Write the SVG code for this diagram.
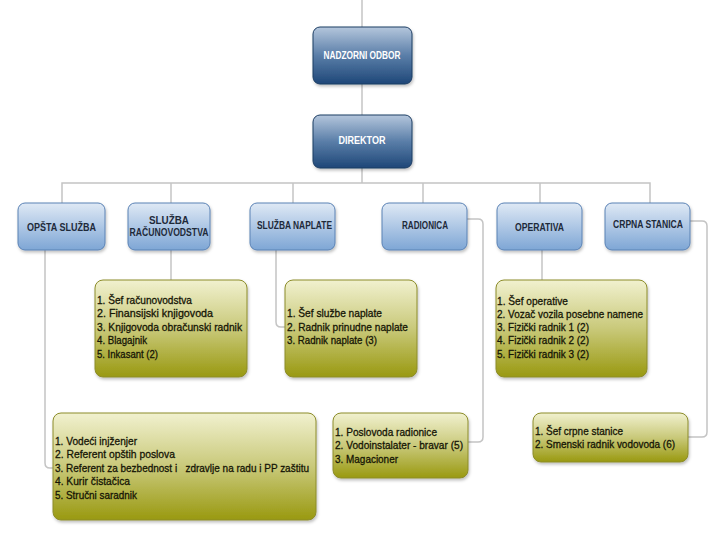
<svg xmlns="http://www.w3.org/2000/svg" width="720" height="540" viewBox="0 0 720 540">
<defs>
<linearGradient id="gTop" x1="0" y1="0" x2="0" y2="1">
<stop offset="0" stop-color="#b4c6dc"/>
<stop offset="0.5" stop-color="#5a7ea8"/>
<stop offset="1" stop-color="#1e4778"/>
</linearGradient>
<linearGradient id="gMid" x1="0" y1="0" x2="0" y2="1">
<stop offset="0" stop-color="#dfe9f5"/>
<stop offset="1" stop-color="#7ea6d5"/>
</linearGradient>
<linearGradient id="gList" x1="0" y1="0" x2="0" y2="1">
<stop offset="0" stop-color="#f1f1cf"/>
<stop offset="0.5" stop-color="#c9c97a"/>
<stop offset="1" stop-color="#999910"/>
</linearGradient>
<filter id="sh" x="-10%" y="-10%" width="130%" height="130%">
<feDropShadow dx="1" dy="2" stdDeviation="1.5" flood-color="#000" flood-opacity="0.25"/>
</filter>
</defs>
<style>
.top{fill:url(#gTop);stroke:#1d3d63;stroke-width:1;filter:url(#sh)}
.mid{fill:url(#gMid);stroke:#5a82b5;stroke-width:1;filter:url(#sh)}
.lst{fill:url(#gList);stroke:#8c8c2a;stroke-width:1;filter:url(#sh)}
.tt{font-family:"Liberation Sans",Arial,sans-serif;font-size:10px;font-weight:bold;fill:#ffffff;text-anchor:middle}
.mt{font-family:"Liberation Sans",Arial,sans-serif;font-size:10px;font-weight:bold;fill:#1e2a3a;text-anchor:middle}
.lt{font-family:"Liberation Sans",Arial,sans-serif;font-size:11px;fill:#151505;stroke:#151505;stroke-width:0.3;white-space:pre}
.con{fill:none;stroke:#c4c4c4;stroke-width:1.5}
</style>
<rect width="720" height="540" fill="#ffffff"/>
<g id="connectors">
<path class="con" d="M362,0 V27"/>
<path class="con" d="M362,84 V115"/>
<path class="con" d="M362,168 V183"/>
<path class="con" d="M62,203 V183 H650 V203"/>
<path class="con" d="M171,183 V203"/>
<path class="con" d="M293,183 V203"/>
<path class="con" d="M423,183 V203"/>
<path class="con" d="M540,183 V203"/>
<path class="con" d="M171,250 V280"/>
<path class="con" d="M276,250 V322 Q276,327 281,327 H285"/>
<path class="con" d="M542,250 V280"/>
<path class="con" d="M45,250 V463 Q45,468 50,468 H53"/>
<path class="con" d="M467,219 H478 Q483,219 483,224 V437 Q483,442 478,442 H468"/>
<path class="con" d="M690,221 H702 Q707,221 707,226 V432 Q707,437 702,437 H688"/>
</g>
<g id="nadzorni-odbor">
<rect class="top" x="313" y="27" width="99" height="57" rx="7"/>
<text class="tt" x="362" y="59" textLength="77" lengthAdjust="spacingAndGlyphs">NADZORNI ODBOR</text>
</g>
<g id="direktor">
<rect class="top" x="313" y="115" width="99" height="53" rx="7"/>
<text class="tt" x="362" y="144" textLength="47" lengthAdjust="spacingAndGlyphs">DIREKTOR</text>
</g>
<g id="opsta-sluzba">
<rect class="mid" x="18" y="203" width="87" height="47" rx="7"/>
<text class="mt" x="61.5" y="231" textLength="69" lengthAdjust="spacingAndGlyphs">OPŠTA SLUŽBA</text>
</g>
<g id="sluzba-racunovodstva">
<rect class="mid" x="128" y="203" width="82" height="47" rx="7"/>
<text class="mt" x="169" y="224" textLength="40" lengthAdjust="spacingAndGlyphs">SLUŽBA</text>
<text class="mt" x="169" y="236" textLength="79" lengthAdjust="spacingAndGlyphs">RAČUNOVODSTVA</text>
</g>
<g id="sluzba-naplate">
<rect class="mid" x="250" y="203" width="85" height="47" rx="7"/>
<text class="mt" x="294.5" y="229" textLength="75" lengthAdjust="spacingAndGlyphs">SLUŽBA NAPLATE</text>
</g>
<g id="radionica">
<rect class="mid" x="382" y="203" width="85" height="47" rx="7"/>
<text class="mt" x="425" y="229" textLength="46" lengthAdjust="spacingAndGlyphs">RADIONICA</text>
</g>
<g id="operativa">
<rect class="mid" x="497" y="203" width="85" height="47" rx="7"/>
<text class="mt" x="539.5" y="231" textLength="49" lengthAdjust="spacingAndGlyphs">OPERATIVA</text>
</g>
<g id="crpna-stanica">
<rect class="mid" x="605" y="203" width="85" height="47" rx="7"/>
<text class="mt" x="648" y="228" textLength="70" lengthAdjust="spacingAndGlyphs">CRPNA STANICA</text>
</g>
<g id="lista-racunovodstvo">
<rect class="lst" x="95" y="280" width="152" height="97" rx="8"/>
<text class="lt" x="97" y="304" textLength="95" lengthAdjust="spacingAndGlyphs">1. Šef računovodstva</text>
<text class="lt" x="97" y="317" textLength="116" lengthAdjust="spacingAndGlyphs">2. Finansijski knjigovoda</text>
<text class="lt" x="97" y="331" textLength="145" lengthAdjust="spacingAndGlyphs">3. Knjigovoda obračunski radnik</text>
<text class="lt" x="97" y="344" textLength="50" lengthAdjust="spacingAndGlyphs">4. Blagajnik</text>
<text class="lt" x="97" y="358" textLength="61" lengthAdjust="spacingAndGlyphs">5. Inkasant (2)</text>
</g>
<g id="lista-naplata">
<rect class="lst" x="285" y="280" width="132" height="97" rx="8"/>
<text class="lt" x="287" y="317" textLength="95" lengthAdjust="spacingAndGlyphs">1. Šef službe naplate</text>
<text class="lt" x="287" y="331" textLength="121" lengthAdjust="spacingAndGlyphs">2. Radnik prinudne naplate</text>
<text class="lt" x="287" y="344" textLength="90" lengthAdjust="spacingAndGlyphs">3. Radnik naplate (3)</text>
</g>
<g id="lista-operativa">
<rect class="lst" x="496" y="280" width="151" height="97" rx="8"/>
<text class="lt" x="497" y="305" textLength="71" lengthAdjust="spacingAndGlyphs">1. Šef operative</text>
<text class="lt" x="497" y="318" textLength="146" lengthAdjust="spacingAndGlyphs">2. Vozač vozila posebne namene</text>
<text class="lt" x="497" y="331" textLength="92" lengthAdjust="spacingAndGlyphs">3. Fizički radnik 1 (2)</text>
<text class="lt" x="497" y="344" textLength="92" lengthAdjust="spacingAndGlyphs">4. Fizički radnik 2 (2)</text>
<text class="lt" x="497" y="358" textLength="92" lengthAdjust="spacingAndGlyphs">5. Fizički radnik 3 (2)</text>
</g>
<g id="lista-opsta">
<rect class="lst" x="53" y="413" width="263" height="107" rx="8"/>
<text class="lt" x="55" y="445" textLength="82" lengthAdjust="spacingAndGlyphs">1. Vodeći injženjer</text>
<text class="lt" x="55" y="458" textLength="120" lengthAdjust="spacingAndGlyphs">2. Referent opštih poslova</text>
<text class="lt" x="55" y="472" textLength="254" lengthAdjust="spacingAndGlyphs">3. Referent za bezbednost i   zdravlje na radu i PP zaštitu</text>
<text class="lt" x="55" y="485" textLength="75" lengthAdjust="spacingAndGlyphs">4. Kurir čistačica</text>
<text class="lt" x="55" y="499" textLength="82" lengthAdjust="spacingAndGlyphs">5. Stručni saradnik</text>
</g>
<g id="lista-radionica">
<rect class="lst" x="333" y="413" width="135" height="65" rx="8"/>
<text class="lt" x="335" y="436" textLength="102" lengthAdjust="spacingAndGlyphs">1. Poslovoda radionice</text>
<text class="lt" x="335" y="449" textLength="128" lengthAdjust="spacingAndGlyphs">2. Vodoinstalater - bravar (5)</text>
<text class="lt" x="335" y="463" textLength="63" lengthAdjust="spacingAndGlyphs">3. Magacioner</text>
</g>
<g id="lista-crpna">
<rect class="lst" x="533" y="413" width="155" height="49" rx="8"/>
<text class="lt" x="535" y="435" textLength="88" lengthAdjust="spacingAndGlyphs">1. Šef crpne stanice</text>
<text class="lt" x="535" y="448" textLength="140" lengthAdjust="spacingAndGlyphs">2. Smenski radnik vodovoda (6)</text>
</g>
</svg>
